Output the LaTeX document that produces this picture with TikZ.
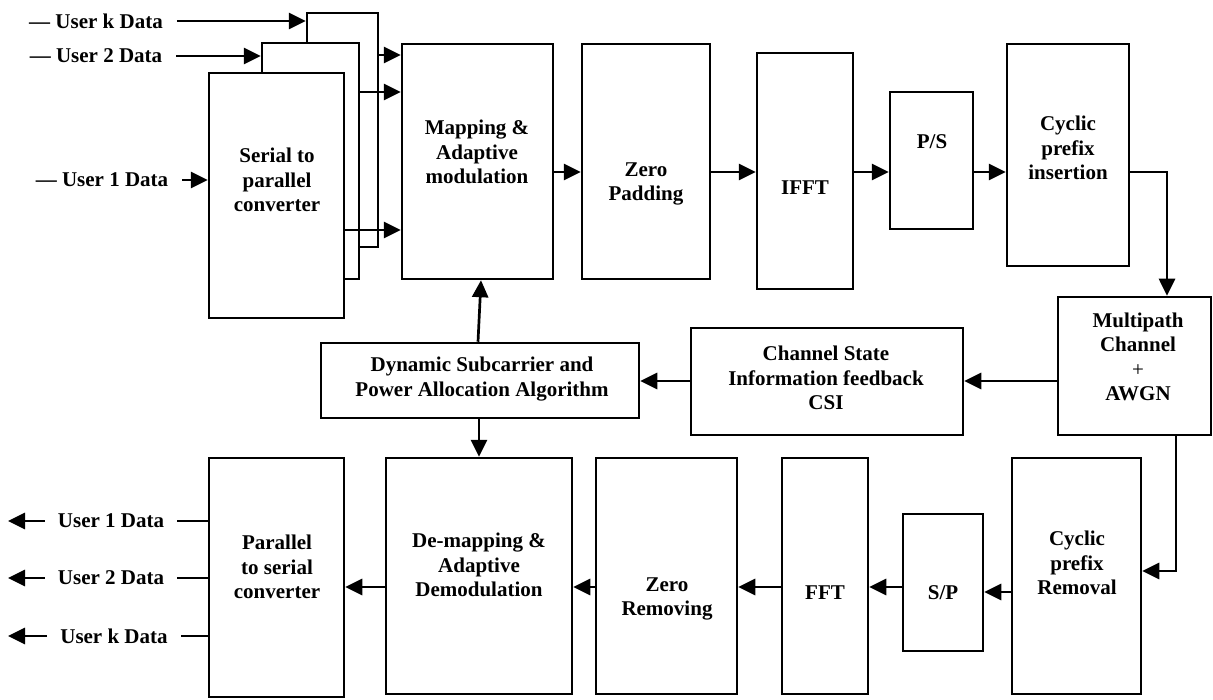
\documentclass[tikz,border=0pt]{standalone}
\usepackage{fontspec}
\setmainfont{Liberation Serif}
\usetikzlibrary{arrows.meta,fit}
\begin{document}
\begin{tikzpicture}[x=1pt,y=-1pt,
  blk/.style={draw, line width=2.5pt, fill=white, inner sep=0pt},
  txt/.style={font=\bfseries\fontsize{21}{24.5}\selectfont, align=center, inner sep=0pt},
  lnk/.style={line width=2.7pt},
  arr/.style={lnk, -{Triangle[length=17pt,width=16pt]}},
  inlbl/.style={txt, inner xsep=14pt},
  outlbl/.style={txt, inner xsep=13pt}
]
\useasboundingbox (0,0) rectangle (1213,700);

% stacked serial-to-parallel boxes
\node[blk, fit={(307,13) (378,247)}] (spK) {};
\node[blk, fit={(262,43) (359,279)}] (sp2) {};
\node[blk, fit={(209,73) (344,318)}] (sp1) {};
\node[txt] (sp1T) at (277,180) {Serial to\\parallel\\converter};

% transmitter chain
\node[blk, fit={(402,44) (553,279)}] (map) {};
\node[txt] (mapT) at (477,152) {Mapping \&\\Adaptive\\modulation};
\node[blk, fit={(582,44) (710,279)}] (zp) {};
\node[txt] (zpT) at (646,184) {Zero\\Padding};
\node[blk, fit={(757,53) (853,289)}] (ifft) {};
\node[txt] (ifftT) at (805,188) {IFFT};
\node[blk, fit={(890,92) (973,229)}] (ps) {};
\node[txt] (psT) at (932,142) {P/S};
\node[blk, fit={(1007,44) (1129,266)}] (cpi) {};
\node[txt] (cpiT) at (1068,148) {Cyclic\\prefix\\insertion};

% channel and feedback
\node[blk, fit={(1058,297) (1211,435)}] (mp) {};
\node[txt] (mpT) at (1138,357) {Multipath\\Channel\\{\mdseries +}\\AWGN};
\node[blk, fit={(691,328) (963,435)}] (csi) {};
\node[txt] (csiT) at (826,378) {Channel State\\Information feedback\\CSI};
\node[blk, fit={(321,343) (639,418)}] (dyn) {};
\node[txt] (dynT) at (482,379) {Dynamic Subcarrier and\\Power Allocation Algorithm};

% receiver chain
\node[blk, fit={(1012,458) (1141,694)}] (cpr) {};
\node[txt] (cprT) at (1077,563) {Cyclic\\prefix\\Removal};
\node[blk, fit={(903,514) (983,651)}] (spb) {};
\node[txt] (spbT) at (943,593) {S/P};
\node[blk, fit={(782,458) (868,694)}] (fft) {};
\node[txt] (fftT) at (825,593) {FFT};
\node[blk, fit={(596,458) (737,694)}] (zr) {};
\node[txt] (zrT) at (667,599) {Zero\\Removing};
\node[blk, fit={(386,458) (572,694)}] (dm) {};
\node[txt] (dmT) at (479,565) {De-mapping \&\\Adaptive\\Demodulation};
\node[blk, fit={(209,458) (344,697)}] (psc) {};
\node[txt] (pscT) at (277,567) {Parallel\\to serial\\converter};

% input labels
\node[inlbl] (uK) at (96,21) {— User k Data};
\node[inlbl] (u2) at (96,56) {— User 2 Data};
\node[inlbl] (u1) at (102,180) {— User 1 Data};
% output labels
\node[outlbl] (o1) at (111,521) {User 1 Data};
\node[outlbl] (o2) at (111,578) {User 2 Data};
\node[outlbl] (oK) at (114,636) {User k Data};
\coordinate (e1) at (8,521);
\coordinate (e2) at (8,578);
\coordinate (eK) at (8,636);

% helper levels
\coordinate (yA) at (0,55);
\coordinate (yB) at (0,92);
\coordinate (yC) at (0,230);
\coordinate (yT) at (0,172);
\coordinate (xR) at (1167,0);
\coordinate (yF) at (0,381);
\coordinate (xD) at (1176,0);
\coordinate (yD) at (0,571);
\coordinate (yS) at (0,592);
\coordinate (yL) at (0,587);

% input connectors
\draw[arr] (uK.east) -- (uK.east -| spK.west);
\draw[arr] (u2.east) -- (u2.east -| sp2.west);
\draw[arr] (u1.east) -- (u1.east -| sp1.west);
\draw[arr] (spK.east |- yA) -- (map.west |- yA);
\draw[arr] (sp2.east |- yB) -- (map.west |- yB);
\draw[arr] (sp1.east |- yC) -- (map.west |- yC);

% transmitter connectors
\draw[arr] (map.east |- yT) -- (zp.west |- yT);
\draw[arr] (zp.east |- yT) -- (ifft.west |- yT);
\draw[arr] (ifft.east |- yT) -- (ps.west |- yT);
\draw[arr] (ps.east |- yT) -- (cpi.west |- yT);
\draw[arr] (cpi.east |- yT) -| (xR |- mp.north);

% feedback
\draw[arr] (mp.west |- yF) -- (csi.east |- yF);
\draw[arr] (csi.west |- yF) -- (dyn.east |- yF);
\draw[arr] ([xshift=-2pt]dyn.north) -- ([xshift=1pt]dyn.north |- map.south);
\draw[arr] (dyn.south -| dm.north) -- (dm.north);

% receiver connectors
\draw[arr] (xD |- mp.south) |- (cpr.east |- yD);
\draw[arr] (cpr.west |- yS) -- (spb.east |- yS);
\draw[arr] (spb.west |- yL) -- (fft.east |- yL);
\draw[arr] (fft.west |- yL) -- (zr.east |- yL);
\draw[arr] (zr.west |- yL) -- (dm.east |- yL);
\draw[arr] (dm.west |- yL) -- (psc.east |- yL);

% outputs
\draw[lnk] (psc.west |- o1.east) -- (o1.east);
\draw[lnk] (psc.west |- o2.east) -- (o2.east);
\draw[lnk] (psc.west |- oK.east) -- (oK.east);
\draw[arr] (o1.west) -- (e1);
\draw[arr] (o2.west) -- (e2);
\draw[arr] (oK.west) -- (eK);
\end{tikzpicture}
\end{document}
